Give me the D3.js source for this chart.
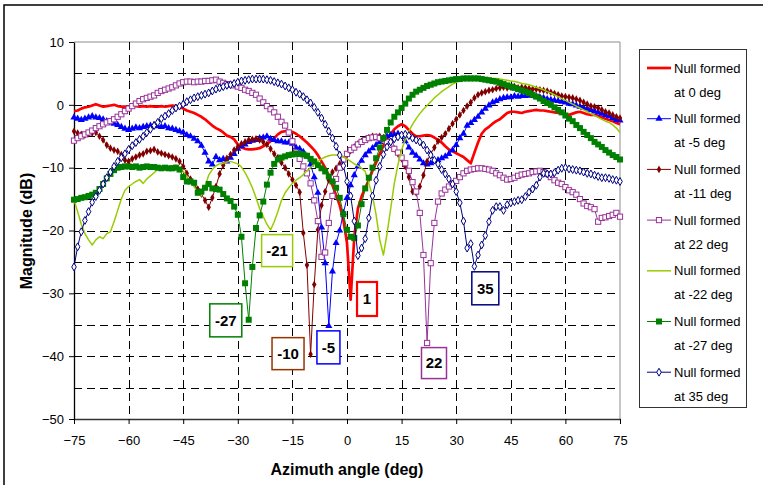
<!DOCTYPE html>
<html><head><meta charset="utf-8">
<script src="https://cdn.jsdelivr.net/npm/d3@7"></script>
<style>body{margin:0;background:#fff;} svg{display:block;font-family:Arial,"Liberation Sans",sans-serif;}</style>
</head><body><svg id="c" width="763" height="485"></svg>
<script>
// ---------- DATA ----------
const angles = d3.range(-75, 76, 1); // azimuth samples, deg
const xTicks = [-75, -60, -45, -30, -15, 0, 15, 30, 45, 60, 75];
const yTicks = [10, 0, -10, -20, -30, -40, -50];
const yGrid = [5, 0, -5, -10, -15, -20, -25, -30, -35, -40, -45];
const xGrid = [-60, -45, -30, -15, 0, 15, 30, 45, 60];

const seriesNames = ["Null formed at 0 deg", "Null formed at -5 deg", "Null formed at -11 deg",
  "Null formed at 22 deg", "Null formed at -22 deg", "Null formed at -27 deg", "Null formed at 35 deg"];

const nullAt0 = [
 -1.0,-0.9,-0.6,-0.4,-0.3,-0.1,0.1,-0.1,-0.3,-0.2,
 -0.1,0.0,-0.2,-0.3,-0.3,-0.3,-0.2,-0.2,-0.3,-0.2,
 -0.3,-0.2,-0.3,-0.3,-0.2,-0.3,-0.2,-0.1,-0.2,-0.3,
 -0.6,-0.9,-1.1,-1.3,-1.6,-1.9,-2.3,-2.8,-3.3,-3.7,
 -4.0,-4.4,-4.9,-5.1,-5.5,-6.3,-6.8,-7.0,-7.1,-7.1,
 -7.0,-6.9,-6.6,-6.2,-5.8,-5.3,-4.7,-4.3,-4.2,-4.2,
 -4.3,-4.6,-5.0,-5.5,-6.0,-6.6,-7.2,-8.0,-9.0,-10.0,
 -11.3,-12.8,-14.4,-16.0,-18.3,-22.0,-31.0,-21.0,-16.5,-14.6,
 -13.2,-12.0,-10.5,-9.2,-7.8,-6.5,-5.4,-4.6,-3.9,-3.4,
 -3.1,-3.4,-4.0,-4.6,-5.0,-5.0,-4.9,-4.8,-4.9,-5.2,
 -5.6,-6.0,-6.6,-7.1,-7.4,-7.7,-8.0,-8.3,-8.8,-9.3,
 -7.6,-6.0,-4.6,-3.9,-3.5,-3.0,-2.6,-2.3,-1.8,-1.3,
 -1.1,-1.1,-1.2,-1.3,-1.1,-1.0,-0.9,-0.8,-0.9,-0.9,
 -1.0,-1.1,-1.2,-1.3,-1.3,-1.5,-1.6,-1.4,-1.2,-1.1,
 -1.3,-1.5,-1.6,-1.6,-1.8,-2.0,-2.2,-2.4,-2.6,-2.9,
 -3.1];

const nullAtM5 = [
 -2.0,-2.2,-2.4,-2.2,-2.0,-1.8,-2.0,-2.1,-2.3,-2.6,
 -2.8,-3.0,-3.2,-3.5,-3.8,-4.0,-3.8,-3.6,-3.7,-3.5,
 -3.4,-3.3,-3.2,-3.4,-3.5,-3.4,-3.7,-3.8,-4.0,-4.2,
 -4.4,-4.8,-5.0,-5.4,-5.8,-6.5,-7.6,-9.0,-9.5,-8.3,
 -8.8,-8.6,-9.0,-8.4,-7.8,-7.0,-6.6,-6.3,-5.9,-5.7,
 -5.6,-5.3,-5.2,-5.0,-5.4,-5.6,-5.8,-5.8,-6.0,-6.0,
 -6.2,-6.8,-7.0,-7.5,-8.2,-9.5,-11.5,-14.0,-19.5,-25.2,
 -35.2,-26.5,-22.0,-20.0,-17.2,-14.8,-12.8,-11.2,-9.8,-8.9,
 -8.0,-7.4,-6.9,-6.4,-5.9,-5.4,-5.0,-4.8,-4.7,-4.6,
 -4.8,-5.8,-6.8,-7.6,-8.1,-8.7,-9.3,-9.5,-9.3,-9.0,
 -8.8,-8.5,-8.2,-7.8,-7.2,-6.4,-5.3,-4.6,-3.3,-2.9,
 -2.4,-1.9,-1.2,-0.6,-0.1,0.4,0.6,0.9,1.1,1.2,
 1.2,1.4,1.3,1.4,1.4,1.5,1.4,1.3,1.2,1.1,
 0.9,0.8,0.7,0.6,0.5,0.4,0.2,0.1,-0.1,-0.3,
 -0.5,-0.6,-0.8,-1.0,-1.2,-1.4,-1.6,-1.8,-2.1,-2.4,
 -2.5];

const nullAtM11 = [
 -4.2,-4.5,-4.7,-4.8,-4.6,-4.5,-4.4,-5.0,-5.6,-6.4,
 -6.9,-7.2,-7.4,-7.9,-8.8,-9.0,-8.6,-8.3,-8.0,-7.8,
 -7.4,-7.3,-7.1,-7.5,-7.7,-7.9,-8.1,-8.3,-8.6,-9.0,
 -9.8,-10.9,-11.8,-12.6,-13.4,-14.2,-15.2,-16.3,-14.8,-13.0,
 -11.0,-9.6,-8.5,-7.9,-7.2,-6.7,-6.2,-5.9,-5.6,-5.5,
 -5.4,-5.6,-5.9,-6.3,-7.0,-7.8,-8.4,-9.2,-10.0,-11.0,
 -11.9,-12.8,-13.9,-20.4,-25.5,-39.7,-28.6,-19.9,-16.0,-13.8,
 -12.0,-10.7,-10.1,-9.4,-8.7,-8.0,-7.3,-6.7,-6.2,-5.8,
 -5.5,-5.2,-5.0,-5.1,-5.0,-5.2,-5.7,-6.3,-7.0,-7.8,
 -8.6,-9.8,-11.5,-13.8,-14.0,-13.0,-11.2,-9.0,-7.8,-6.8,
 -5.8,-5.2,-4.6,-3.8,-3.0,-2.3,-1.6,-0.9,-0.2,0.4,
 1.1,1.6,1.9,2.1,2.3,2.4,2.6,2.7,2.8,2.7,
 2.8,2.9,2.7,2.8,2.7,2.6,2.5,2.5,2.4,2.3,
 2.2,2.0,1.8,1.6,1.4,1.3,1.2,1.1,0.9,0.7,
 0.4,0.1,-0.2,-0.3,-0.5,-0.8,-1.1,-1.3,-1.6,-1.9,
 -2.1];

const nullAt22 = [
 -5.7,-5.3,-5.0,-4.7,-4.4,-4.1,-3.7,-3.4,-3.1,-2.8,
 -2.6,-2.3,-1.9,-1.5,-1.0,-0.6,-0.2,0.2,0.6,0.9,
 1.1,1.3,1.5,1.9,2.2,2.4,2.6,2.8,3.1,3.4,
 3.6,3.7,3.7,3.6,3.7,3.7,3.8,3.8,3.9,4.0,
 3.7,3.5,3.3,3.2,3.1,2.9,2.7,2.4,2.2,1.9,
 1.6,1.0,0.4,-0.2,-0.7,-1.2,-1.9,-2.7,-3.3,-4.4,
 -5.8,-7.6,-8.6,-9.8,-10.9,-12.5,-15.2,-18.5,-24.2,-23.5,
 -18.8,-14.5,-11.8,-10.0,-8.7,-7.8,-7.2,-6.8,-6.3,-5.9,
 -5.6,-5.3,-5.2,-5.1,-5.3,-5.4,-5.9,-6.3,-7.0,-7.6,
 -8.4,-9.3,-10.5,-12.3,-13.8,-17.2,-23.9,-37.9,-25.2,-18.8,
 -15.4,-14.1,-13.5,-13.0,-12.5,-12.1,-11.5,-10.9,-10.5,-10.3,
 -10.2,-10.1,-10.1,-10.2,-10.3,-10.5,-10.9,-11.2,-11.6,-11.9,
 -11.8,-11.6,-11.3,-11.1,-11.0,-10.9,-10.7,-10.6,-10.5,-10.7,
 -11.0,-11.5,-12.0,-12.4,-12.6,-13.1,-13.6,-13.9,-14.3,-15.0,
 -15.7,-16.1,-16.3,-16.6,-18.6,-18.0,-17.9,-17.7,-17.5,-17.2,
 -17.8];

const nullAtM22 = [
 -15.1,-17.0,-19.0,-20.5,-21.5,-22.3,-21.5,-21.0,-21.3,-20.5,
 -20.2,-18.6,-16.8,-15.0,-13.6,-13.0,-12.6,-12.2,-11.9,-12.5,
 -11.8,-11.3,-10.8,-10.3,-10.0,-9.9,-10.2,-9.7,-9.6,-10.0,
 -10.6,-11.4,-12.2,-13.0,-13.8,-14.5,-13.0,-11.2,-10.3,-9.7,
 -9.4,-9.3,-9.1,-9.0,-9.2,-9.4,-9.9,-10.8,-11.9,-13.2,
 -14.8,-16.5,-17.8,-19.0,-19.9,-18.6,-17.0,-15.2,-14.0,-13.2,
 -12.5,-12.0,-11.6,-11.1,-10.5,-10.0,-9.4,-9.0,-8.6,-8.3,
 -8.1,-8.0,-8.0,-8.1,-8.3,-8.6,-9.0,-9.4,-9.7,-10.1,
 -10.6,-12.5,-14.5,-17.5,-21.5,-23.9,-20.5,-16.5,-12.5,-9.5,
 -7.2,-5.5,-4.2,-3.1,-2.2,-1.4,-0.7,-0.1,0.5,1.1,
 1.6,2.1,2.5,2.9,3.3,3.6,3.9,4.1,4.2,4.3,
 4.3,4.3,4.3,4.3,4.3,4.2,4.2,4.1,4.0,3.9,
 3.8,3.7,3.6,3.4,3.3,3.2,3.0,2.8,2.6,2.4,
 2.1,1.9,1.6,1.3,1.0,0.7,0.4,0.1,-0.2,-0.5,
 -0.8,-1.1,-1.4,-1.7,-2.0,-2.3,-2.6,-2.8,-3.2,-3.7,
 -4.4];

const nullAtM27 = [
 -15.1,-15.0,-14.8,-14.7,-14.5,-14.3,-14.0,-13.4,-12.6,-11.7,
 -11.0,-10.4,-10.0,-9.9,-9.8,-9.8,-9.9,-9.8,-10.0,-9.9,
 -9.8,-9.9,-9.9,-10.0,-10.1,-10.0,-10.1,-10.1,-10.0,-10.3,
 -11.5,-12.2,-12.2,-12.4,-14.0,-13.8,-13.2,-12.6,-13.3,-13.4,
 -13.5,-14.2,-14.9,-15.3,-16.2,-17.5,-21.0,-28.4,-34.2,-25.8,
 -19.6,-17.6,-15.4,-12.7,-10.8,-9.4,-8.7,-8.4,-8.2,-8.0,
 -7.9,-7.8,-7.8,-7.9,-8.1,-8.6,-9.0,-9.6,-10.1,-10.6,
 -11.4,-12.2,-13.2,-14.8,-17.4,-19.9,-21.0,-21.2,-19.2,-15.8,
 -13.3,-11.6,-10.0,-8.5,-6.8,-5.3,-4.0,-2.8,-1.9,-1.2,
 -0.5,0.2,1.0,1.6,2.1,2.4,2.7,3.0,3.2,3.4,
 3.6,3.7,3.8,3.9,4.0,4.1,4.1,4.2,4.2,4.2,
 4.2,4.2,4.1,4.0,3.9,3.8,3.7,3.5,3.3,3.1,
 2.9,2.7,2.5,2.3,2.1,1.9,1.6,1.3,1.0,0.6,
 0.3,0.0,-0.4,-0.8,-1.2,-1.7,-2.2,-2.6,-3.2,-3.7,
 -4.3,-4.8,-5.3,-5.9,-6.3,-6.7,-7.2,-7.6,-8.0,-8.3,
 -8.7];

const nullAt35 = [
 -25.8,-22.6,-20.2,-18.4,-17.0,-15.5,-14.6,-13.6,-12.6,-11.6,
 -10.7,-9.8,-9.0,-8.4,-7.8,-7.1,-6.5,-6.0,-5.5,-5.0,
 -4.4,-3.9,-3.3,-2.8,-2.2,-1.8,-1.4,-0.9,-0.5,-0.2,
 0.1,0.5,0.8,1.1,1.3,1.5,1.7,1.9,2.2,2.5,
 2.7,2.9,3.1,3.2,3.4,3.6,3.8,3.9,4.0,4.1,
 4.1,4.1,4.1,4.0,3.9,3.7,3.5,3.3,3.0,2.7,
 2.4,2.0,1.7,1.3,0.8,0.3,-0.4,-1.2,-2.1,-3.1,
 -4.2,-5.3,-6.6,-8.0,-9.7,-12.2,-14.5,-18.5,-24.0,-22.8,
 -21.3,-18.0,-14.5,-12.0,-9.8,-7.9,-6.7,-5.9,-5.4,-5.1,
 -4.8,-4.7,-4.9,-5.3,-5.6,-5.9,-6.4,-7.2,-8.0,-8.8,
 -9.4,-10.3,-11.0,-11.8,-12.6,-13.8,-15.6,-18.5,-22.8,-22.1,
 -25.7,-23.9,-22.3,-20.8,-18.6,-16.8,-16.2,-16.2,-16.8,-15.9,
 -15.6,-15.4,-15.2,-15.1,-14.6,-13.9,-13.4,-12.8,-11.5,-10.9,
 -11.0,-11.0,-10.8,-10.4,-10.1,-10.0,-10.2,-10.3,-10.4,-10.5,
 -10.7,-10.9,-11.0,-11.2,-11.4,-11.6,-11.6,-11.7,-11.9,-12.0,
 -12.2];

const annoLabels = ["-21", "-27", "-10", "-5", "1", "22", "35"];

// ---------- STYLE / LAYOUT ----------
const seriesData = [nullAt0, nullAtM5, nullAtM11, nullAt22, nullAtM22, nullAtM27, nullAt35];
const styles = [
  {color: "#ff0000", width: 2.7, marker: null},
  {color: "#0000ff", width: 1, marker: "triangle"},
  {color: "#800000", width: 1, marker: "diamond"},
  {color: "#993399", width: 1, marker: "openSquare"},
  {color: "#99cc00", width: 1.5, marker: null},
  {color: "#008000", width: 1, marker: "square"},
  {color: "#000080", width: 1, marker: "openDiamond"}
];
// annotation boxes: centre in data coords, box size px, border colour
const annoLayout = [
  {cx: -19.2, cy: -23.2, w: 31, h: 32, color: "#99cc00", sw: 1.5},
  {cx: -33.3, cy: -34.3, w: 32, h: 33, color: "#008000", sw: 1.5},
  {cx: -16.2, cy: -39.6, w: 32, h: 32, color: "#993300", sw: 1.5},
  {cx: -5.1, cy: -38.6, w: 23, h: 33, color: "#0000ff", sw: 1.5},
  {cx: 5.5, cy: -30.9, w: 20, h: 34, color: "#ff0000", sw: 2.2},
  {cx: 23.9, cy: -41.1, w: 25, h: 31, color: "#993399", sw: 1.5},
  {cx: 38.0, cy: -29.2, w: 27, h: 33, color: "#000080", sw: 1.5}
];

const svg = d3.select("#c");
const x = d3.scaleLinear().domain([-75, 75]).range([74, 620]);
const y = d3.scaleLinear().domain([-50, 10]).range([419, 42]);

svg.append("rect").attr("width", 763).attr("height", 485).attr("fill", "#fff");
svg.append("rect").attr("x", 4).attr("y", 5).attr("width", 1000).attr("height", 1000)
  .attr("fill", "none").attr("stroke", "#000").attr("stroke-width", 1.5);

// plot border (top/right gray)
svg.append("line").attr("x1", x(-75)).attr("x2", x(75)).attr("y1", y(10)).attr("y2", y(10))
  .attr("stroke", "#8c8c8c").attr("stroke-width", 1);
svg.append("line").attr("x1", x(75)).attr("x2", x(75)).attr("y1", y(10)).attr("y2", y(-50))
  .attr("stroke", "#8c8c8c").attr("stroke-width", 1);

// grid
const grid = svg.append("g").attr("stroke", "#000").attr("stroke-width", 1).attr("stroke-dasharray", "8,5");
grid.selectAll(".gy").data(yGrid).join("line")
  .attr("x1", x(-75)).attr("x2", x(75)).attr("y1", d => Math.round(y(d)) + 0.5).attr("y2", d => Math.round(y(d)) + 0.5);
grid.selectAll(".gx").data(xGrid).join("line")
  .attr("y1", y(10)).attr("y2", y(-50)).attr("x1", d => Math.round(x(d)) + 0.5).attr("x2", d => Math.round(x(d)) + 0.5);

// axes
const yAxis = svg.append("g").attr("transform", `translate(${x(-75)},0)`)
  .call(d3.axisLeft(y).tickValues(yTicks).tickSize(5).tickPadding(5).tickSizeOuter(0).tickFormat(d3.format("d")));
const xAxis = svg.append("g").attr("transform", `translate(0,${y(-50)})`)
  .call(d3.axisBottom(x).tickValues(xTicks).tickSize(5).tickPadding(14).tickSizeOuter(0).tickFormat(d3.format("d")));
[yAxis, xAxis].forEach(a => {
  a.selectAll("text").attr("font-size", 13).attr("fill", "#000").attr("font-family", "Arial, 'Liberation Sans', sans-serif");
  a.selectAll("line").attr("stroke", "#000");
});
yAxis.select(".domain").attr("stroke", "#000").attr("stroke-width", 1.3);
xAxis.select(".domain").attr("stroke", "#333").attr("stroke-width", 1.5);
xAxis.selectAll("text").attr("dy", "0.5em");

// axis titles
svg.append("text").attr("x", 347).attr("y", 475).attr("text-anchor", "middle")
  .attr("font-size", 16).attr("font-weight", "bold").text("Azimuth angle (deg)");
svg.append("text").attr("transform", "translate(32,231) rotate(-90)").attr("text-anchor", "middle")
  .attr("font-size", 16).attr("font-weight", "bold").text("Magnitude (dB)");

// markers
function drawMarker(sel, type, color) {
  if (type === "triangle") {
    sel.append("path").attr("d", d3.symbol(d3.symbolTriangle, 22)()).attr("fill", color);
  } else if (type === "diamond") {
    sel.append("path").attr("d", d3.symbol(d3.symbolDiamond, 17)()).attr("fill", color);
  } else if (type === "openSquare") {
    sel.append("rect").attr("x", -2.6).attr("y", -2.6).attr("width", 5.2).attr("height", 5.2)
      .attr("fill", "#fff").attr("stroke", color).attr("stroke-width", 1);
  } else if (type === "square") {
    sel.append("rect").attr("x", -3).attr("y", -3).attr("width", 6).attr("height", 6).attr("fill", color);
  } else if (type === "openDiamond") {
    sel.append("path").attr("d", d3.symbol(d3.symbolDiamond, 18)())
      .attr("fill", "#fff").attr("stroke", color).attr("stroke-width", 1);
  }
}

const line = d3.line().x(d => x(d[0])).y(d => y(d[1]));
seriesData.forEach((vals, i) => {
  const st = styles[i];
  const pts = angles.map((a, k) => [a, vals[k]]);
  const g = svg.append("g");
  g.append("path").datum(pts).attr("d", line).attr("fill", "none")
    .attr("stroke", st.color).attr("stroke-width", st.width).attr("stroke-linejoin", "round");
  if (st.marker) {
    g.selectAll("g.m").data(pts).join("g").attr("class", "m")
      .attr("transform", d => `translate(${x(d[0])},${y(d[1])})`)
      .each(function () { drawMarker(d3.select(this), st.marker, st.color); });
  }
});

// annotation boxes
annoLabels.forEach((lab, i) => {
  const L = annoLayout[i];
  const cx = x(L.cx), cy = y(L.cy);
  svg.append("rect").attr("x", cx - L.w / 2).attr("y", cy - L.h / 2).attr("width", L.w).attr("height", L.h)
    .attr("fill", "#fff").attr("stroke", L.color).attr("stroke-width", L.sw);
  svg.append("text").attr("x", cx).attr("y", cy).attr("dy", "0.36em").attr("text-anchor", "middle")
    .attr("font-size", 15).attr("font-weight", "bold").attr("fill", "#000").text(lab);
});

// legend
const leg = svg.append("g");
leg.append("rect").attr("x", 639.5).attr("y", 49.5).attr("width", 107).attr("height", 358)
  .attr("fill", "#fff").attr("stroke", "#333").attr("stroke-width", 1);
seriesNames.forEach((name, i) => {
  const st = styles[i];
  const yy = 68 + i * 50.7;
  const gi = leg.append("g");
  gi.append("line").attr("x1", 647).attr("x2", 671).attr("y1", yy).attr("y2", yy)
    .attr("stroke", st.color).attr("stroke-width", st.width);
  if (st.marker) {
    const m = gi.append("g").attr("transform", `translate(659,${yy})`);
    drawMarker(m, st.marker, st.color);
  }
  const parts = name.match(/^(Null formed) (at .*)$/);
  gi.append("text").attr("x", 674).attr("y", yy).attr("dy", "0.36em").attr("font-size", 13).text(parts[1]);
  gi.append("text").attr("x", 674).attr("y", yy + 24).attr("dy", "0.36em").attr("font-size", 13).text(parts[2]);
});
</script>
</body></html>
